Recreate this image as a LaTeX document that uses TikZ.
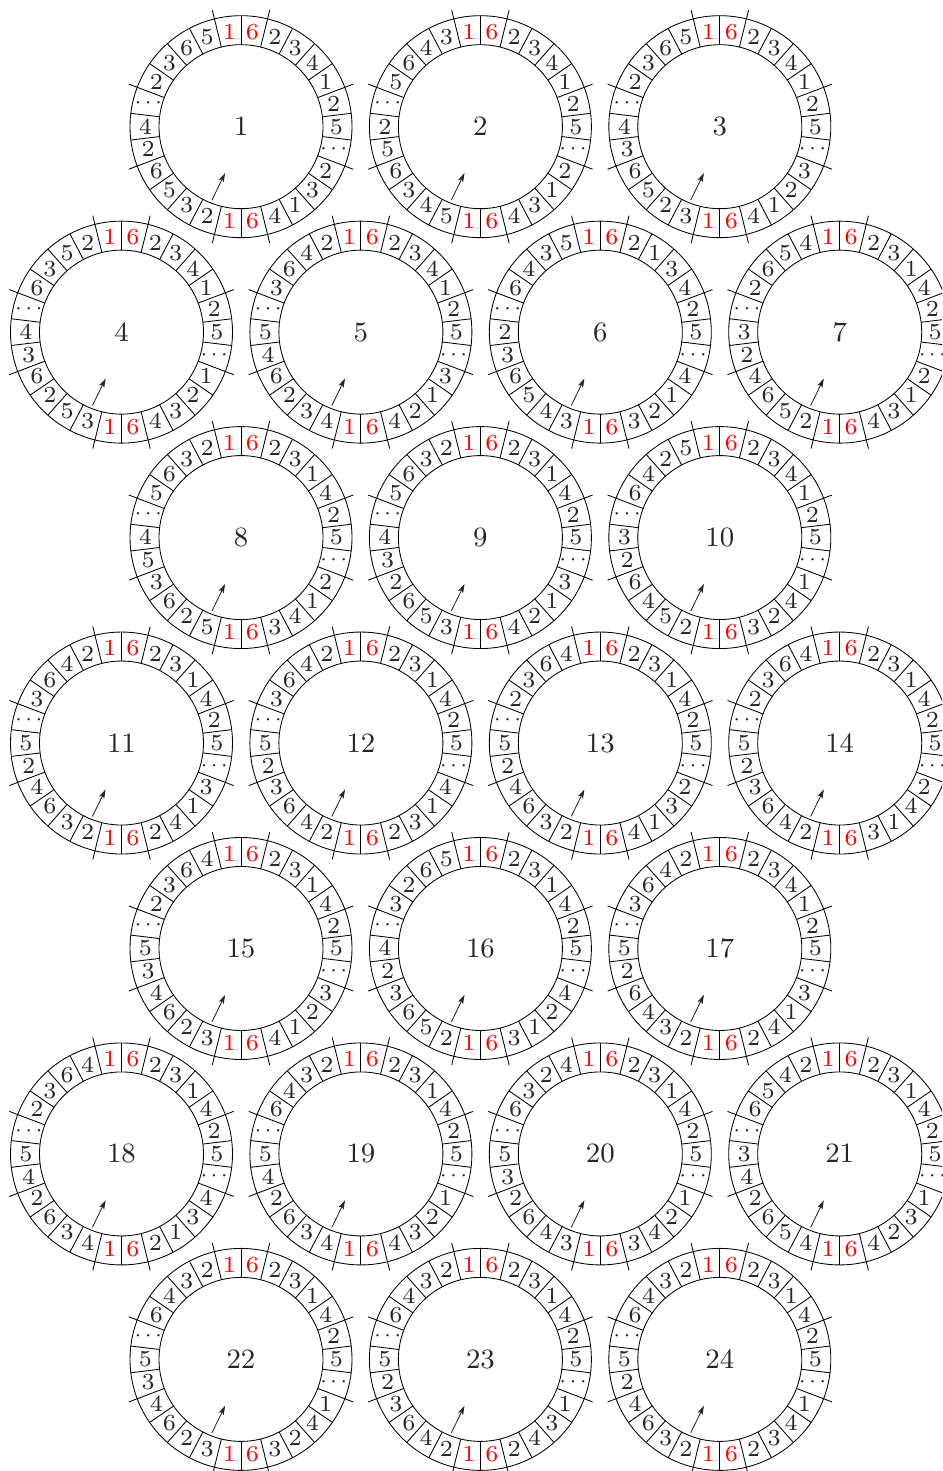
\RequirePackage{fix-cm}
\documentclass[tikz,border=0pt]{standalone}
\usetikzlibrary{arrows.meta}
\font\cellfnt=cmr7 at 23pt
\font\centfnt=cmr9 at 28pt
\newcommand\rd[1]{\textcolor{red}{#1}}
\newcommand\dd{$\cdots$}
\tikzset{
  ringline/.style={line width=0.85pt, draw=black},
  cell/.style={inner sep=0pt, font=\fontsize{23}{27}\selectfont\cellfnt, text=black!85},
  centrelabel/.style={inner sep=0pt, font=\fontsize{28}{33}\selectfont\centfnt, text=black!85},
  pointer/.style={line width=0.85pt, draw=black!85, -{Stealth[length=9pt,width=5.5pt,inset=2pt]}},
}
\newcommand\ringdraw[4]{%
\begin{scope}[shift={(#2,#3)}]
  \draw[ringline] (0,0) circle[radius=111] (0,0) circle[radius=82];
  \foreach \k in {0,2,3,4,6,7,9,10,11,13,15,16,17,19,20,22,23,24}
    \draw[ringline] ({90-\k*360/26}:82) -- ({90-\k*360/26}:111);
  \foreach \k in {1,5,8,12,14,18,21,25}
    \draw[ringline] ({90-\k*360/26}:82) -- ({90-\k*360/26}:120);
  \foreach \v [count=\k from 0] in {#4}
    \node[cell] (r#1c\k) at ({90-(\k+0.5)*360/26}:95.5) {\v};
  \node[centrelabel] (r#1) at (0,0) {#1};
  \coordinate (r#1a) at (-111.6:79);
  \coordinate (r#1b) at (-108.9:49);
  \draw[pointer] (r#1a) -- (r#1b);
\end{scope}}
\begin{document}
\begin{tikzpicture}[x=1pt,y=1pt]
\useasboundingbox (0,0) rectangle (942,1471);
\clip (0,0) rectangle (942,1471);
% row 1
\ringdraw{1}{241}{1344.3}{\rd6,2,3,4,1,2,5,\dd,2,3,1,4,\rd6,\rd1,2,3,5,6,2,4,\dd,2,3,6,5,\rd1}
\ringdraw{2}{480.4}{1344.3}{\rd6,2,3,4,1,2,5,\dd,2,1,3,4,\rd6,\rd1,5,4,3,6,5,2,\dd,5,6,4,3,\rd1}
\ringdraw{3}{719.8}{1344.3}{\rd6,2,3,4,1,2,5,\dd,3,2,1,4,\rd6,\rd1,3,2,5,6,3,4,\dd,2,3,6,5,\rd1}
% row 2
\ringdraw{4}{121.5}{1138.85}{\rd6,2,3,4,1,2,5,\dd,1,2,3,4,\rd6,\rd1,3,5,2,6,3,4,\dd,6,3,5,2,\rd1}
\ringdraw{5}{360.9}{1138.85}{\rd6,2,3,4,1,2,5,\dd,3,1,2,4,\rd6,\rd1,4,3,2,6,4,5,\dd,3,6,4,2,\rd1}
\ringdraw{6}{600.3}{1138.85}{\rd6,2,1,3,4,2,5,\dd,4,1,2,3,\rd6,\rd1,3,4,5,6,3,2,\dd,6,4,3,5,\rd1}
\ringdraw{7}{839.7}{1138.85}{\rd6,2,3,1,4,2,5,\dd,2,1,3,4,\rd6,\rd1,2,5,6,4,2,3,\dd,2,6,5,4,\rd1}
% row 3
\ringdraw{8}{241}{933.4}{\rd6,2,3,1,4,2,5,\dd,2,1,4,3,\rd6,\rd1,5,2,6,3,5,4,\dd,5,6,3,2,\rd1}
\ringdraw{9}{480.4}{933.4}{\rd6,2,3,1,4,2,5,\dd,3,1,2,4,\rd6,\rd1,3,5,6,2,3,4,\dd,5,6,3,2,\rd1}
\ringdraw{10}{719.8}{933.4}{\rd6,2,3,4,1,2,5,\dd,1,4,2,3,\rd6,\rd1,2,5,4,6,2,3,\dd,6,4,2,5,\rd1}
% row 4
\ringdraw{11}{121.5}{727.95}{\rd6,2,3,1,4,2,5,\dd,3,1,4,2,\rd6,\rd1,2,3,6,4,2,5,\dd,3,6,4,2,\rd1}
\ringdraw{12}{360.9}{727.95}{\rd6,2,3,1,4,2,5,\dd,4,1,3,2,\rd6,\rd1,2,4,6,3,2,5,\dd,3,6,4,2,\rd1}
\ringdraw{13}{600.3}{727.95}{\rd6,2,3,1,4,2,5,\dd,2,3,1,4,\rd6,\rd1,2,3,6,4,2,5,\dd,2,3,6,4,\rd1}
\ringdraw{14}{839.7}{727.95}{\rd6,2,3,1,4,2,5,\dd,2,4,1,3,\rd6,\rd1,2,4,6,3,2,5,\dd,2,3,6,4,\rd1}
% row 5
\ringdraw{15}{241}{522.5}{\rd6,2,3,1,4,2,5,\dd,3,2,1,4,\rd6,\rd1,3,2,6,4,3,5,\dd,2,3,6,4,\rd1}
\ringdraw{16}{480.4}{522.5}{\rd6,2,3,1,4,2,5,\dd,4,2,1,3,\rd6,\rd1,2,5,6,3,2,4,\dd,3,2,6,5,\rd1}
\ringdraw{17}{719.8}{522.5}{\rd6,2,3,4,1,2,5,\dd,3,1,4,2,\rd6,\rd1,2,3,4,6,2,5,\dd,3,6,4,2,\rd1}
% row 6
\ringdraw{18}{121.5}{317.05}{\rd6,2,3,1,4,2,5,\dd,4,3,1,2,\rd6,\rd1,4,3,6,2,4,5,\dd,2,3,6,4,\rd1}
\ringdraw{19}{360.9}{317.05}{\rd6,2,3,1,4,2,5,\dd,1,2,3,4,\rd6,\rd1,4,3,6,2,4,5,\dd,6,4,3,2,\rd1}
\ringdraw{20}{600.3}{317.05}{\rd6,2,3,1,4,2,5,\dd,1,2,4,3,\rd6,\rd1,3,4,6,2,3,5,\dd,6,3,2,4,\rd1}
\ringdraw{21}{839.7}{317.05}{\rd6,2,3,1,4,2,5,\dd,1,3,2,4,\rd6,\rd1,4,5,6,2,4,3,\dd,6,5,4,2,\rd1}
% row 7
\ringdraw{22}{241}{111.6}{\rd6,2,3,1,4,2,5,\dd,1,4,2,3,\rd6,\rd1,3,2,6,4,3,5,\dd,6,4,3,2,\rd1}
\ringdraw{23}{480.4}{111.6}{\rd6,2,3,1,4,2,5,\dd,1,3,4,2,\rd6,\rd1,2,4,6,3,2,5,\dd,6,4,3,2,\rd1}
\ringdraw{24}{719.8}{111.6}{\rd6,2,3,1,4,2,5,\dd,1,4,3,2,\rd6,\rd1,2,3,6,4,2,5,\dd,6,4,3,2,\rd1}
\end{tikzpicture}
\end{document}
